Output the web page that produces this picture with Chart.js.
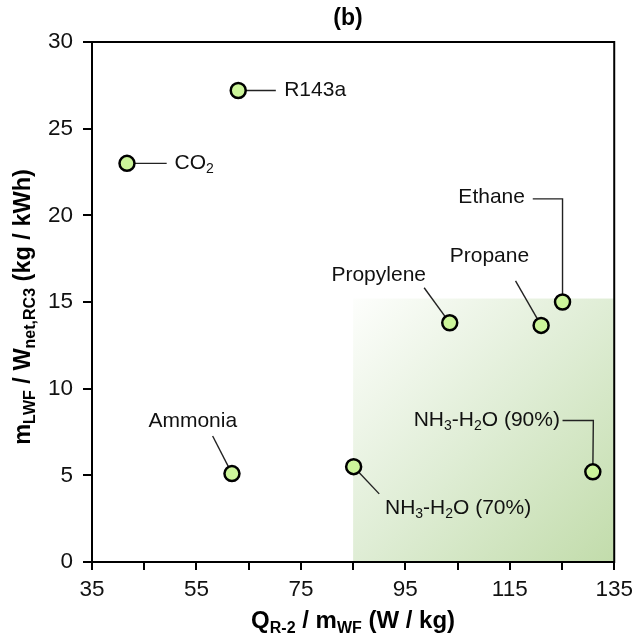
<!DOCTYPE html>
<html>
<head>
<meta charset="utf-8">
<title>(b)</title>
<script src="https://cdn.jsdelivr.net/npm/chart.js@4/dist/chart.umd.min.js"></script>
<style>
  html, body { margin: 0; padding: 0; background: #fff; }
  canvas { display: block; }
</style>
</head>
<body>
<canvas id="chart" width="639" height="639"></canvas>
<script>
// working fluids and their values
const fluidNames = ['CO_2', 'R143a', 'Ammonia', 'NH_3-H_2O (70%)', 'Propylene', 'Propane', 'Ethane', 'NH_3-H_2O (90%)'];
const heatPerMass = [41.7, 63.0, 61.8, 85.1, 103.5, 121.0, 125.1, 130.9];   // Q_R-2 / m_WF (W/kg)
const massPerWork = [23.0, 27.2, 5.1, 5.5, 13.8, 13.65, 15.0, 5.2];          // m_LWF / W_net,RC3 (kg/kWh)

// favourable zone (x range, y range)
const zoneX = [85, 135];
const zoneY = [0, 15.2];

const xTickLabels = [35, 55, 75, 95, 115, 135];

// where each name goes: leader path (after the point itself) and text anchor
const labelPlacement = [
  { path: [[49.3, 23.0]], text: [50.8, 23.0], align: 'left' },
  { path: [[70.2, 27.2]], text: [71.8, 27.2], align: 'left' },
  { path: [[58.1, 7.27]], text: [54.3, 8.1], align: 'center' },
  { path: [[90.0, 3.93]], text: [91.1, 3.1], align: 'left' },
  { path: [[98.6, 15.82]], text: [89.9, 16.57], align: 'center' },
  { path: [[116.1, 16.22]], text: [111.1, 17.67], align: 'center' },
  { path: [[125.1, 20.95], [119.4, 20.95]], text: [117.9, 21.05], align: 'right' },
  { path: [[131.0, 8.16], [125.1, 8.16]], text: [124.6, 8.2], align: 'right' }
];

const FONT = '"Liberation Sans", Arial, sans-serif';
const INK = '#111';

// split "NH_3-H_2O" / "m_{LWF}" into plain and subscript pieces
function parseRich(str) {
  const parts = [];
  let buf = '';
  for (let i = 0; i < str.length; i++) {
    if (str[i] === '_') {
      if (buf) { parts.push({ t: buf, sub: false }); buf = ''; }
      if (str[i + 1] === '{') {
        const end = str.indexOf('}', i);
        parts.push({ t: str.slice(i + 2, end), sub: true });
        i = end;
      } else {
        parts.push({ t: str[i + 1], sub: true });
        i++;
      }
    } else {
      buf += str[i];
    }
  }
  if (buf) parts.push({ t: buf, sub: false });
  return parts;
}

function drawRich(ctx, str, x, y, align, size, bold) {
  const parts = parseRich(str);
  const weight = bold ? 'bold ' : '';
  const subSize = Math.round(size * 0.66);
  let total = 0;
  parts.forEach(p => {
    ctx.font = weight + (p.sub ? subSize : size) + 'px ' + FONT;
    p.w = ctx.measureText(p.t).width;
    total += p.w;
  });
  let cx = align === 'center' ? x - total / 2 : align === 'right' ? x - total : x;
  ctx.textAlign = 'left';
  ctx.textBaseline = 'middle';
  parts.forEach(p => {
    ctx.font = weight + (p.sub ? subSize : size) + 'px ' + FONT;
    ctx.fillText(p.t, cx, p.sub ? y + size * 0.3 : y);
    cx += p.w;
  });
}

const annotate = {
  id: 'annotate',
  beforeDatasetsDraw(chart) {
    const { ctx, chartArea: a, scales: { x, y } } = chart;
    ctx.save();

    // shaded zone
    const x0 = x.getPixelForValue(zoneX[0]), x1 = x.getPixelForValue(zoneX[1]);
    const y0 = y.getPixelForValue(zoneY[1]), y1 = y.getPixelForValue(zoneY[0]);
    const g = ctx.createLinearGradient(x0, y0, x1, y1);
    g.addColorStop(0, '#fdfefc');
    g.addColorStop(0.5, '#dfedd5');
    g.addColorStop(1, '#c2dcab');
    ctx.fillStyle = g;
    ctx.fillRect(x0, y0, x1 - x0, y1 - y0);

    // frame
    ctx.strokeStyle = '#000';
    ctx.lineWidth = 2;
    ctx.strokeRect(a.left, a.top, a.right - a.left, a.bottom - a.top);

    // leader lines
    ctx.strokeStyle = '#222';
    ctx.lineWidth = 1.4;
    labelPlacement.forEach((p, i) => {
      ctx.beginPath();
      ctx.moveTo(x.getPixelForValue(heatPerMass[i]), y.getPixelForValue(massPerWork[i]));
      p.path.forEach(([px, py]) => ctx.lineTo(x.getPixelForValue(px), y.getPixelForValue(py)));
      ctx.stroke();
    });
    ctx.restore();
  },
  afterDatasetsDraw(chart) {
    const { ctx, chartArea: a, scales: { x, y } } = chart;
    ctx.save();
    ctx.fillStyle = INK;
    labelPlacement.forEach((p, i) => {
      drawRich(ctx, fluidNames[i], x.getPixelForValue(p.text[0]), y.getPixelForValue(p.text[1]), p.align, 21, false);
    });

    // panel title and axis titles
    ctx.fillStyle = '#000';
    drawRich(ctx, '(b)', 348, 19, 'center', 23, true);
    drawRich(ctx, 'Q_{R-2} / m_{WF} (W / kg)', (a.left + a.right) / 2, 621, 'center', 24, true);
    ctx.translate(24, 307);
    ctx.rotate(-Math.PI / 2);
    drawRich(ctx, 'm_{LWF} / W_{net,RC3} (kg / kWh)', 0, 0, 'center', 23.5, true);
    ctx.restore();
  }
};

new Chart(document.getElementById('chart'), {
  type: 'scatter',
  data: {
    datasets: [{
      data: heatPerMass.map((v, i) => ({ x: v, y: massPerWork[i] })),
      pointRadius: 7.5,
      pointHoverRadius: 7.5,
      pointBackgroundColor: '#ccf59a',
      pointBorderColor: '#000',
      pointBorderWidth: 2.5
    }]
  },
  options: {
    responsive: false,
    animation: false,
    layout: { padding: { top: 42, right: 22, left: 0, bottom: 0 } },
    plugins: {
      legend: { display: false },
      tooltip: { enabled: false }
    },
    scales: {
      x: {
        type: 'linear',
        min: 35,
        max: 135,
        afterFit: s => { s.height = 77; },
        ticks: {
          stepSize: 10,
          autoSkip: false,
          maxRotation: 0,
          padding: 6,
          color: INK,
          font: { family: FONT, size: 22.5 },
          callback: v => xTickLabels.includes(v) ? String(v) : ''
        },
        grid: { drawOnChartArea: false, drawTicks: true, tickLength: 8, color: '#000', lineWidth: 2 },
        border: { color: '#000', width: 2 }
      },
      y: {
        min: 0,
        max: 30,
        afterFit: s => { s.width = 92; },
        ticks: {
          stepSize: 5,
          padding: 10,
          color: INK,
          font: { family: FONT, size: 22.5 }
        },
        grid: { drawOnChartArea: false, drawTicks: true, tickLength: 9, color: '#000', lineWidth: 2 },
        border: { color: '#000', width: 2 }
      }
    }
  },
  plugins: [annotate]
});
</script>
</body>
</html>
